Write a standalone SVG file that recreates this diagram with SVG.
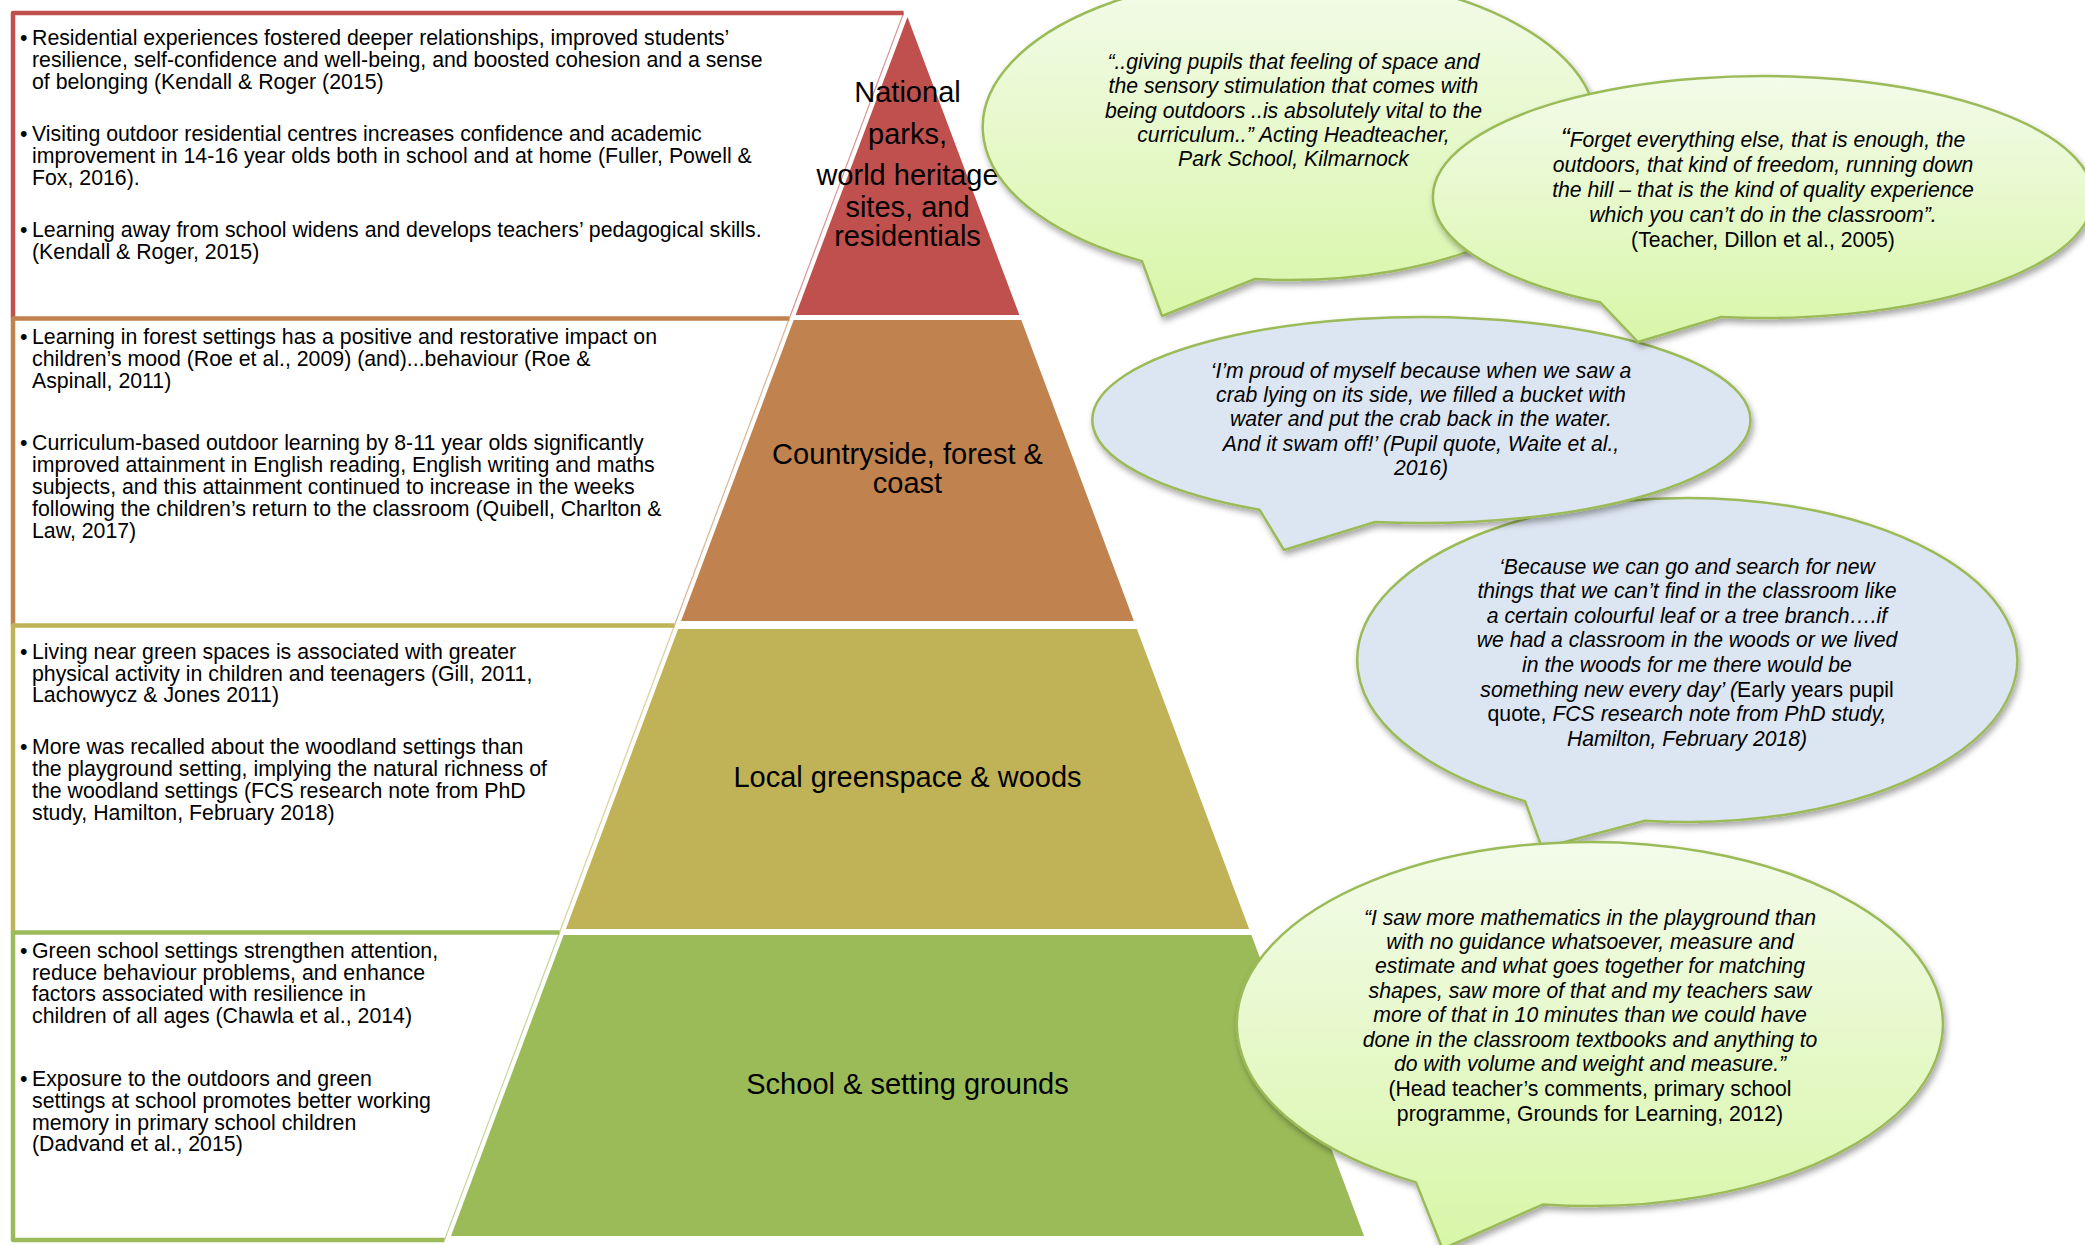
<svg xmlns="http://www.w3.org/2000/svg" width="2085" height="1245" viewBox="0 0 2085 1245">
  <defs>
    <style>
      .panel-text { font-family: "Liberation Sans", Arial, sans-serif; font-size: 21.3px; fill: #000; }
      .tier-label { font-family: "Liberation Sans", Arial, sans-serif; font-size: 29px; fill: #000; text-anchor: middle; }
      .quote { font-family: "Liberation Sans", Arial, sans-serif; font-size: 21.2px; fill: #000; text-anchor: middle; font-style: italic; }
      .up { font-style: normal; }
      .bubble { stroke: #9BBB59; stroke-width: 2.5; stroke-linejoin: round; filter: url(#shadow); }
      .green-fill { fill: url(#greenGrad); }
      .blue-fill { fill: #DCE6F2; }
      .edge { fill: none; stroke-width: 4.5; stroke-linejoin: round; stroke-linecap: butt; }
      .slant { fill: none; stroke-width: 1.2; stroke-opacity: 0.6; }
    </style>
    <linearGradient id="greenGrad" x1="0" y1="0" x2="0" y2="1">
      <stop offset="0" stop-color="#F3FBEA"/>
      <stop offset="1" stop-color="#D8F6A8"/>
    </linearGradient>
    <filter id="shadow" x="-10%" y="-10%" width="125%" height="135%">
      <feDropShadow dx="2" dy="4" stdDeviation="3" flood-color="#000" flood-opacity="0.35"/>
    </filter>
  </defs>

  <rect width="2085" height="1245" fill="#fff"/>

  <!-- evidence panels on the left -->
  <g id="panel-residentials">
    <path class="edge" stroke="#C0504D" d="M903.6,13 L13,13 L13,318.5"/>
    <line class="slant" stroke="#C0504D" x1="903.6" y1="13" x2="789.3" y2="318.5"/>
    <text class="panel-text">
      <tspan x="20" y="44.5">•</tspan><tspan x="32" y="44.5">Residential experiences fostered deeper relationships, improved students’</tspan>
      <tspan x="32" y="66.5">resilience, self-confidence and well-being, and boosted cohesion and a sense</tspan>
      <tspan x="32" y="88.5">of belonging (Kendall &amp; Roger (2015)</tspan>
      <tspan x="20" y="141">•</tspan><tspan x="32" y="141">Visiting outdoor residential centres increases confidence and academic</tspan>
      <tspan x="32" y="163">improvement in 14-16 year olds both in school and at home (Fuller, Powell &amp;</tspan>
      <tspan x="32" y="185">Fox, 2016).</tspan>
      <tspan x="20" y="236.5">•</tspan><tspan x="32" y="236.5">Learning away from school widens and develops teachers’ pedagogical skills.</tspan>
      <tspan x="32" y="258.5">(Kendall &amp; Roger, 2015)</tspan>
    </text>
  </g>

  <g id="panel-countryside">
    <path class="edge" stroke="#C0834F" d="M789.3,318.5 L13,318.5 L13,625.5"/>
    <line class="slant" stroke="#C0834F" x1="789.3" y1="318.5" x2="674.4" y2="625.5"/>
    <text class="panel-text">
      <tspan x="20" y="343.5">•</tspan><tspan x="32" y="343.5">Learning in forest settings has a positive and restorative impact on</tspan>
      <tspan x="32" y="365.5">children’s mood (Roe et al., 2009) (and)...behaviour (Roe &amp;</tspan>
      <tspan x="32" y="387.5">Aspinall, 2011)</tspan>
      <tspan x="20" y="449.5">•</tspan><tspan x="32" y="449.5">Curriculum-based outdoor learning by 8-11 year olds significantly</tspan>
      <tspan x="32" y="471.5">improved attainment in English reading, English writing and maths</tspan>
      <tspan x="32" y="493.5">subjects, and this attainment continued to increase in the weeks</tspan>
      <tspan x="32" y="516">following the children’s return to the classroom (Quibell, Charlton &amp;</tspan>
      <tspan x="32" y="538">Law, 2017)</tspan>
    </text>
  </g>

  <g id="panel-greenspace">
    <path class="edge" stroke="#BFB257" d="M674.4,625.5 L13,625.5 L13,932.5"/>
    <line class="slant" stroke="#BFB257" x1="674.4" y1="625.5" x2="559.5" y2="932.5"/>
    <text class="panel-text">
      <tspan x="20" y="658.5">•</tspan><tspan x="32" y="658.5">Living near green spaces is associated with greater</tspan>
      <tspan x="32" y="680.5">physical activity in children and teenagers (Gill, 2011,</tspan>
      <tspan x="32" y="702">Lachowycz &amp; Jones 2011)</tspan>
      <tspan x="20" y="753.5">•</tspan><tspan x="32" y="753.5">More was recalled about the woodland settings than</tspan>
      <tspan x="32" y="775.5">the playground setting, implying the natural richness of</tspan>
      <tspan x="32" y="797.5">the woodland settings (FCS research note from PhD</tspan>
      <tspan x="32" y="820">study, Hamilton, February 2018)</tspan>
    </text>
  </g>

  <g id="panel-school">
    <path class="edge" stroke="#9BBB59" d="M559.5,932.5 L13,932.5 L13,1240 L444.5,1240"/>
    <line class="slant" stroke="#9BBB59" x1="559.5" y1="932.5" x2="444.5" y2="1240"/>
    <text class="panel-text">
      <tspan x="20" y="958">•</tspan><tspan x="32" y="958">Green school settings strengthen attention,</tspan>
      <tspan x="32" y="979.5">reduce behaviour problems, and enhance</tspan>
      <tspan x="32" y="1001">factors associated with resilience in</tspan>
      <tspan x="32" y="1023">children of all ages (Chawla et al., 2014)</tspan>
      <tspan x="20" y="1085.5">•</tspan><tspan x="32" y="1085.5">Exposure to the outdoors and green</tspan>
      <tspan x="32" y="1108">settings at school promotes better working</tspan>
      <tspan x="32" y="1129.5">memory in primary school children</tspan>
      <tspan x="32" y="1151">(Dadvand et al., 2015)</tspan>
    </text>
  </g>

  <!-- pyramid tiers (centred labels keep their tspans on one line so no stray spaces shift them) -->
  <g id="tier-national-parks">
    <polygon fill="#C0504D" points="907.5,17 795.6,315 1019.4,315"/>
    <text class="tier-label"><tspan x="907.5" y="102">National</tspan><tspan x="907.5" y="144">parks,</tspan><tspan x="907.5" y="185">world heritage</tspan><tspan x="907.5" y="217">sites, and</tspan><tspan x="907.5" y="245.5">residentials</tspan></text>
  </g>
  <g id="tier-countryside">
    <polygon fill="#C0834F" points="793.7,320 1021.3,320 1133.9,621 681.1,621"/>
    <text class="tier-label"><tspan x="907.5" y="463.5">Countryside, forest &amp;</tspan><tspan x="907.5" y="493">coast</tspan></text>
  </g>
  <g id="tier-greenspace">
    <polygon fill="#BFB257" points="678.1,629 1136.9,629 1249.1,929 565.9,929"/>
    <text class="tier-label" x="907.5" y="787">Local greenspace &amp; woods</text>
  </g>
  <g id="tier-school">
    <polygon fill="#9BBB59" points="563.6,935 1251.4,935 1364,1236 451,1236"/>
    <text class="tier-label" x="907.5" y="1093.5">School &amp; setting grounds</text>
  </g>

  <!-- speech bubbles -->
  <g id="bubble-headteacher">
    <path class="bubble green-fill" d="M1255,279 A307,153 0 1 0 1142,261.1 L1162,316 Z"/>
    <text class="quote"><tspan x="1293.5" y="69">“..giving pupils that feeling of space and</tspan><tspan x="1293.5" y="93">the sensory stimulation that comes with</tspan><tspan x="1293.5" y="117.5">being outdoors ..is absolutely vital to the</tspan><tspan x="1293.5" y="141.5">curriculum..” Acting Headteacher,</tspan><tspan x="1293.5" y="166">Park School, Kilmarnock</tspan></text>
  </g>

  <g id="bubble-early-years">
    <path class="bubble blue-fill" d="M1645,820.7 A330,162 0 1 0 1525,801.1 L1542,848 Z"/>
    <text class="quote"><tspan x="1687" y="573.5">‘Because we can go and search for new</tspan><tspan x="1687" y="598">things that we can’t find in the classroom like</tspan><tspan x="1687" y="622.5">a certain colourful leaf or a tree branch….if</tspan><tspan x="1687" y="647">we had a classroom  in the woods or we lived</tspan><tspan x="1687" y="672">in the woods for me there would be</tspan><tspan x="1687" y="696.5">something  new every day’ (<tspan class="up">Early years pupil</tspan></tspan><tspan x="1687" y="721"><tspan class="up">quote, </tspan>FCS research note from PhD study,</tspan><tspan x="1687" y="745.5">Hamilton, February 2018)</tspan></text>
  </g>

  <g id="bubble-pupil-crab">
    <path class="bubble blue-fill" d="M1375,522 A329,103 0 1 0 1259.5,509.7 L1284,550 Z"/>
    <text class="quote"><tspan x="1421" y="377.5">‘I’m proud of myself because when we saw a</tspan><tspan x="1421" y="401.5">crab lying on its side, we filled a bucket with</tspan><tspan x="1421" y="426">water and put the crab back in  the water.</tspan><tspan x="1421" y="450.5">And it swam off!’ (Pupil quote, Waite et al.,</tspan><tspan x="1421" y="475">2016)</tspan></text>
  </g>

  <g id="bubble-teacher">
    <path class="bubble green-fill" d="M1721,317 A330,121 0 1 0 1600,302.2 L1638,342 Z"/>
    <text class="quote"><tspan x="1763" y="147"><tspan font-size="27">“</tspan>Forget everything else, that is enough, the</tspan><tspan x="1763" y="172">outdoors, that kind of freedom, running down</tspan><tspan x="1763" y="197">the hill – that is the kind of quality experience</tspan><tspan x="1763" y="222">which you can’t do in the classroom”.</tspan><tspan x="1763" y="247" class="up">(Teacher, Dillon et al., 2005)</tspan></text>
  </g>

  <g id="bubble-mathematics">
    <path class="bubble green-fill" d="M1543,1204.4 A353,182 0 1 0 1416,1182.4 L1442.5,1249 Z"/>
    <text class="quote"><tspan x="1590" y="924.5">“I saw more mathematics in the playground than</tspan><tspan x="1590" y="948.5">with no guidance whatsoever, measure and</tspan><tspan x="1590" y="973">estimate and what goes together for matching</tspan><tspan x="1590" y="997.5">shapes, saw more of that and my teachers saw</tspan><tspan x="1590" y="1022">more of that in 10 minutes than we could have</tspan><tspan x="1590" y="1046.5">done in the classroom textbooks and anything to</tspan><tspan x="1590" y="1071">do with volume and  weight and measure.”</tspan><tspan x="1590" y="1096" class="up">(Head teacher’s comments, primary school</tspan><tspan x="1590" y="1120.5" class="up">programme, Grounds for Learning, 2012)</tspan></text>
  </g>
</svg>
